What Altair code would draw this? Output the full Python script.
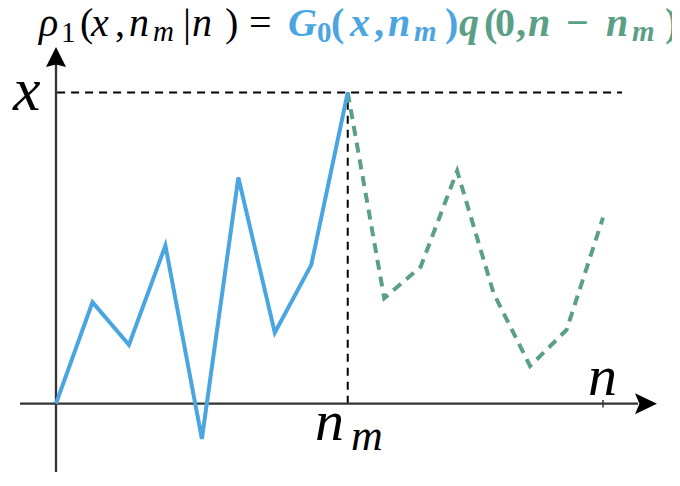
import altair as alt
import pandas as pd

# walk values (peak normalised to 10)
steps = list(range(0, 16))
n_m = 8
x_peak = 10.0
walk_before = [0.0, 3.26, 1.89, 5.08, -1.13, 7.27, 2.28, 4.46, 10.0]
walk_after = [10.0, 3.39, 4.4, 7.48, 3.55, 1.21, 2.37, 5.98]
n_end = 15

BLUE = "#4ba5e0"
GREEN = "#5a9f86"
AXIS = "#333333"
FONT = "Liberation Serif"

W, H = 664, 470
X_DOMAIN = [-1.3163, 16.892]
Y_DOMAIN = [-2.388, 12.715]


def page_to_n(px):
    return X_DOMAIN[0] + (px - 8) / W * (X_DOMAIN[1] - X_DOMAIN[0])


def page_to_v(py):
    return Y_DOMAIN[1] - (py - 8) / H * (Y_DOMAIN[1] - Y_DOMAIN[0])


xs = alt.Scale(domain=X_DOMAIN, nice=False, zero=False)
ys = alt.Scale(domain=Y_DOMAIN, nice=False, zero=False)


def X(f):
    return alt.X(f, type="quantitative", scale=xs, axis=None)


def Y(f):
    return alt.Y(f, type="quantitative", scale=ys, axis=None)


before = pd.DataFrame({"n": steps[: n_m + 1], "v": walk_before})
after = pd.DataFrame({"n": steps[n_m:], "v": walk_after})

blue = alt.Chart(before).mark_line(color=BLUE, strokeWidth=4).encode(x=X("n"), y=Y("v"))
green = alt.Chart(after).mark_line(color=GREEN, strokeWidth=4, strokeDash=[10, 7]).encode(
    x=X("n"), y=Y("v")
)

# axes drawn by hand, with arrow heads
x_axis = alt.Chart(pd.DataFrame({"a": [page_to_n(20)], "b": [page_to_n(638)], "y": [0]})).mark_rule(
    color=AXIS, strokeWidth=2.3
).encode(x=X("a"), x2="b", y=Y("y"))
y_axis = alt.Chart(pd.DataFrame({"x": [0], "a": [page_to_v(472)], "b": [page_to_v(64)]})).mark_rule(
    color=AXIS, strokeWidth=2.3
).encode(x=X("x"), y=Y("a"), y2="b")
x_head = alt.Chart(pd.DataFrame({"x": [page_to_n(646)], "y": [0]})).mark_point(
    shape="M1,0 L-1,-0.95 L-0.6,0 L-1,0.95 Z", filled=True, size=484, color="black", opacity=1, strokeWidth=0
).encode(x=X("x"), y=Y("y"))
y_head = alt.Chart(pd.DataFrame({"x": [0], "y": [page_to_v(57)]})).mark_point(
    shape="M0,-1 L-1,1 L0,0.75 L1,1 Z", filled=True, size=400, color="black", opacity=1, strokeWidth=0
).encode(x=X("x"), y=Y("y"))
end_tick = alt.Chart(pd.DataFrame({"x": [n_end], "a": [-0.12], "b": [0.12]})).mark_rule(
    color=AXIS, strokeWidth=1.5
).encode(x=X("x"), y=Y("a"), y2="b")

peak_h = alt.Chart(pd.DataFrame({"a": [0.03], "b": [page_to_n(622)], "y": [x_peak]})).mark_rule(
    color="black", strokeWidth=2, strokeDash=[8, 6]
).encode(x=X("a"), x2="b", y=Y("y"))
peak_v = alt.Chart(pd.DataFrame({"x": [n_m], "a": [0], "b": [x_peak]})).mark_rule(
    color="black", strokeWidth=2, strokeDash=[8, 6]
).encode(x=X("x"), y=Y("a"), y2="b")

# title formula and axis labels, token by token (page x of left edge, baseline y)
MAIN, SUB = 40, 29
tokens = [
    ("ρ", 39, 36, MAIN, "black", "italic", "normal"),
    ("1", 61, 42, SUB, "black", "normal", "normal"),
    ("(", 80, 36, MAIN, "black", "normal", "normal"),
    ("x", 91, 36, MAIN, "black", "italic", "normal"),
    (",", 115, 36, MAIN, "black", "normal", "normal"),
    ("n", 129, 36, MAIN, "black", "italic", "normal"),
    ("m", 153, 41, SUB, "black", "italic", "normal"),
    ("|", 183, 36, MAIN, "black", "normal", "normal"),
    ("n", 192, 36, MAIN, "black", "italic", "normal"),
    (")", 225, 36, MAIN, "black", "normal", "normal"),
    ("=", 249, 36, MAIN, "black", "normal", "normal"),
    ("G", 288, 36, MAIN, BLUE, "italic", "bold"),
    ("0", 317, 42, SUB, BLUE, "normal", "bold"),
    ("(", 331, 36, MAIN, BLUE, "normal", "bold"),
    ("x", 350, 36, MAIN, BLUE, "italic", "bold"),
    (",", 374, 36, MAIN, BLUE, "normal", "bold"),
    ("n", 388, 36, MAIN, BLUE, "italic", "bold"),
    ("m", 414, 41, SUB, BLUE, "italic", "bold"),
    (")", 445, 36, MAIN, BLUE, "normal", "bold"),
    ("q", 459, 36, MAIN, GREEN, "italic", "bold"),
    ("(", 484, 36, MAIN, GREEN, "normal", "bold"),
    ("0", 495, 36, MAIN, GREEN, "normal", "bold"),
    (",", 516, 36, MAIN, GREEN, "normal", "bold"),
    ("n", 528, 36, MAIN, GREEN, "italic", "bold"),
    ("−", 566, 36, MAIN, GREEN, "normal", "bold"),
    ("n", 606, 36, MAIN, GREEN, "italic", "bold"),
    ("m", 632, 41, SUB, GREEN, "italic", "bold"),
    (")", 665, 36, MAIN, GREEN, "normal", "bold"),
    ("x", 13, 110, 62, "black", "italic", "normal"),
    ("n", 315, 440, 58, "black", "italic", "normal"),
    ("m", 351, 450, 44, "black", "italic", "normal"),
    ("n", 588, 395, 58, "black", "italic", "normal"),
]
tok = pd.DataFrame(tokens, columns=["label", "px", "py", "fs", "ink", "style", "weight"])
# a lone glyph falls back to a sans font here; a trailing no-break space keeps the serif face
tok["label"] = tok["label"] + "\u00a0"
tok["n"] = tok["px"].map(page_to_n)
tok["v"] = tok["py"].map(page_to_v)

text_layers = []
for style in ["italic", "normal"]:
    for weight in ["normal", "bold"]:
        part = tok[(tok["style"] == style) & (tok["weight"] == weight)][["label", "fs", "ink", "n", "v"]]
        text_layers.append(
            alt.Chart(part)
            .mark_text(font=FONT, fontStyle=style, fontWeight=weight, align="left", baseline="alphabetic")
            .encode(
                x=X("n"),
                y=Y("v"),
                text=alt.Text("label:N"),
                size=alt.Size("fs:Q", scale=None, legend=None),
                color=alt.Color("ink:N", scale=None, legend=None),
            )
        )

chart = (
    alt.layer(
        peak_h, peak_v, x_axis, y_axis, end_tick, x_head, y_head, green, blue, *text_layers
    )
    .properties(width=W, height=H, padding=0, autosize="none", background="white")
    .configure_view(stroke=None)
)

chart.save("out.html", embed_options={"renderer": "svg", "actions": False})
